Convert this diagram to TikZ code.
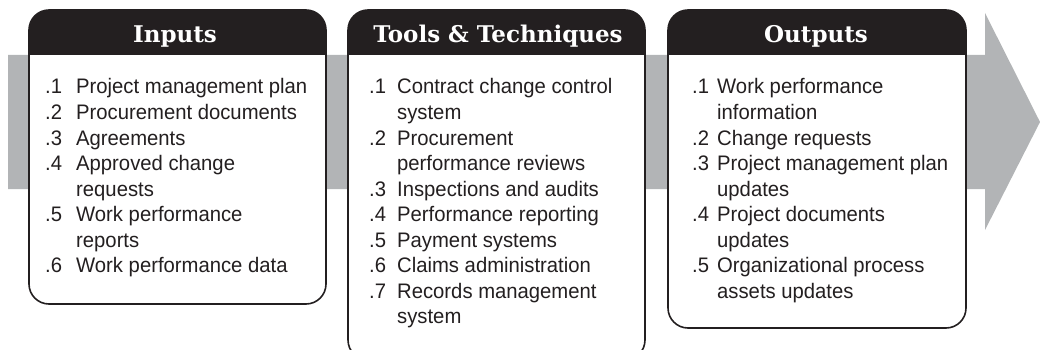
\documentclass[tikz,border=0pt]{standalone}
\usepackage{fontspec}
\newfontfamily\bodyf{Liberation Sans}[FakeStretch=0.965]
\newfontfamily\hdrf{DejaVu Serif}
\definecolor{hdr}{HTML}{231F20}
\definecolor{arrowgray}{HTML}{B2B4B6}
\tikzset{
  boxline/.style={draw=hdr, line width=1.6pt, rounded corners=20pt},
  hdrtext/.style={text=white, font=\hdrf\bfseries\fontsize{23}{26}\selectfont, inner sep=0pt, anchor=base},
  txt/.style={text=hdr, font=\bodyf\fontsize{21}{24}\selectfont, inner sep=0pt, anchor=base west},
}
\begin{document}
\begin{tikzpicture}[x=1pt,y=-1pt]
\useasboundingbox (0,0) rectangle (1040,350);
\clip (0,0) rectangle (1040,350);
% arrow
\fill[arrowgray] (8,55) -- (985,55) -- (985,13) -- (1040,122) -- (985,230) -- (985,189) -- (8,189) -- cycle;
% boxes
\foreach \nm/\l/\r/\b in {bi/29/326/304, bt/348/645/360, bo/668/966/328}{
  \fill[white, rounded corners=20pt] (\l,10) rectangle (\r,\b);
  \begin{scope}
    \clip (\l-2,8) rectangle (\r+2,55);
    \fill[hdr, rounded corners=20pt] (\l,10) rectangle (\r,\b);
  \end{scope}
  \draw[boxline] (\l,10) rectangle (\r,\b);
}
\node[hdrtext] (hin) at (175,43) {Inputs};
\node[hdrtext] (htt) at (498,43) {Tools \& Techniques};
\node[hdrtext] (hout) at (816,43) {Outputs};
% inputs
\foreach \n/\t [count=\i from 0] in {.1/Project management plan, .2/Procurement documents, .3/Agreements, .4/Approved change, /requests, .5/Work performance, /reports, .6/Work performance data}{
  \node[txt] (in\i) at (45,94+25.5*\i) {\makebox[31pt][l]{\n}\t};
}
% tools
\foreach \n/\t [count=\i from 0] in {.1/Contract change control, /system, .2/Procurement, /performance reviews, .3/Inspections and audits, .4/Performance reporting, .5/Payment systems, .6/Claims administration, .7/Records management, /system}{
  \node[txt] (tt\i) at (369,94+25.5*\i) {\makebox[28pt][l]{\n}\t};
}
% outputs
\foreach \n/\t [count=\i from 0] in {.1/Work performance, /information, .2/Change requests, .3/Project management plan, /updates, .4/Project documents, /updates, .5/Organizational process, /assets updates}{
  \node[txt] (out\i) at (692,94+25.5*\i) {\makebox[25pt][l]{\n}\t};
}
\end{tikzpicture}
\end{document}
